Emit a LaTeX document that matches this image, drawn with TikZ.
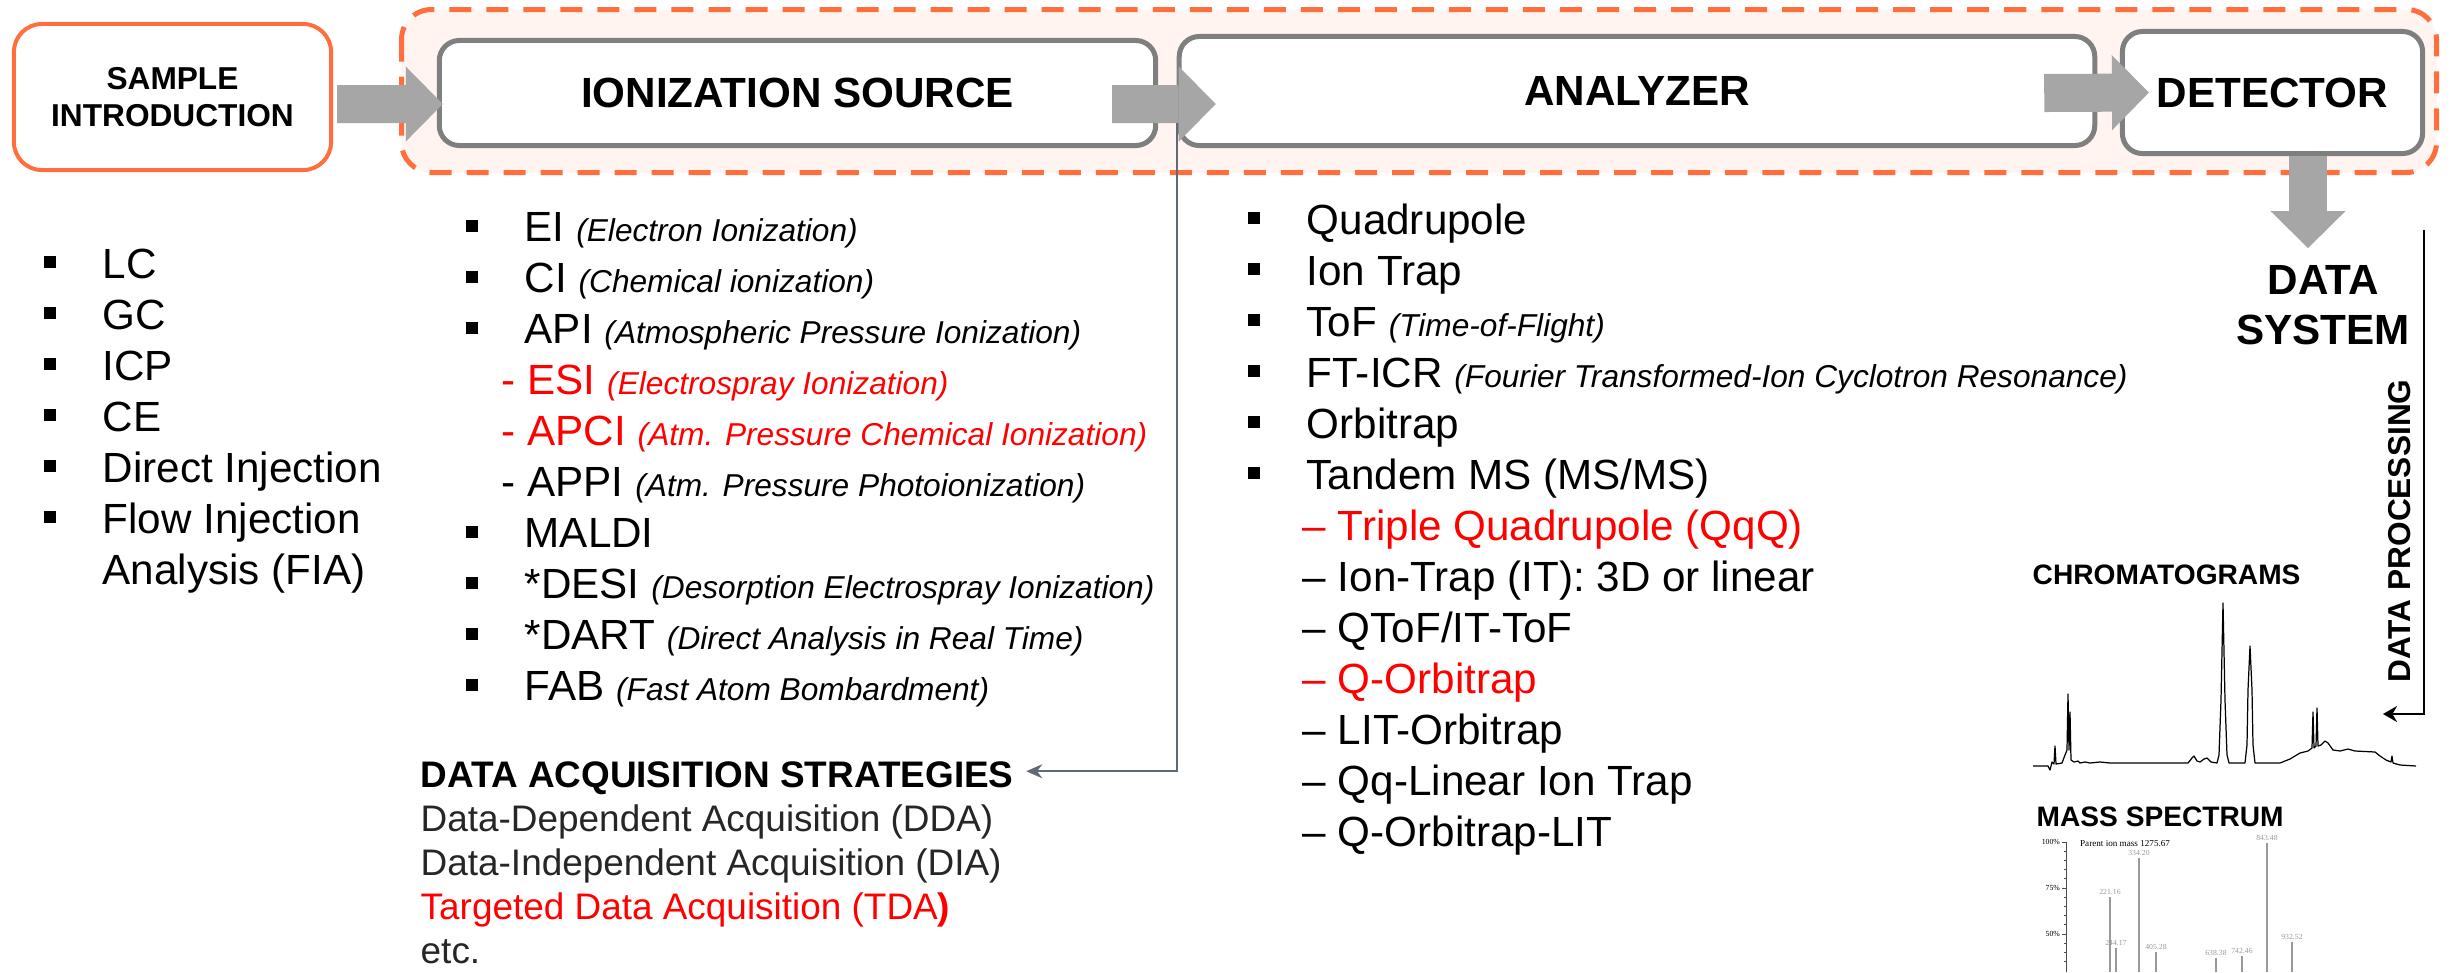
\documentclass[tikz,border=0pt]{standalone}
\usepackage{fontspec}
\setmainfont{Liberation Sans}
\newfontfamily\specfont{Liberation Serif}
\usetikzlibrary{arrows.meta}

\definecolor{mainorange}{RGB}{255,110,60}
\definecolor{groupfill}{RGB}{255,244,240}
\definecolor{boxgray}{RGB}{127,127,127}
\definecolor{arrowgray}{RGB}{166,166,166}
\definecolor{linkgray}{RGB}{96,106,116}
\definecolor{hilite}{RGB}{255,0,0}

% square bullet and the small italic long names
\newcommand{\blt}{\makebox[0.59cm][l]{\rule[0.24em]{0.12cm}{0.12cm}}}
\newcommand{\longname}[1]{{\fontsize{9}{10}\selectfont\itshape (#1)}}

\begin{document}
\begin{tikzpicture}[x=0.01cm, y=-0.01cm,
  stage/.style={draw=boxgray, line width=0.05cm, fill=white, rounded corners=0.2cm,
    font=\fontsize{12}{14}\selectfont\bfseries},
  flow/.style={draw=arrowgray, line width=0.38cm,
    -{Triangle[length=0.37cm, width=0.75cm, line width=0pt]}},
  link/.style={draw=linkgray, line width=0.02cm, -{Stealth[length=0.16cm, width=0.14cm]}},
  procline/.style={draw=black, line width=0.02cm, -{Stealth[length=0.14cm, width=0.16cm]}},
  itemlist/.style={anchor=north west, inner sep=0pt, align=left,
    font=\fontsize{12}{14.5}\selectfont},
  smalltitle/.style={anchor=west, inner sep=0pt, font=\fontsize{8}{9}\selectfont\bfseries},
  tiny/.style={inner sep=0.4pt, font=\fontsize{2.2}{2.5}\selectfont\specfont}]

\fill[white] (0,0) rectangle (2450,970);

% dashed group round the instrument
\draw[mainorange, line width=0.05cm, dash pattern=on 0.22cm off 0.15cm, fill=groupfill,
  rounded corners=0.3cm] (401.5,9.5) rectangle (2436.5,172.5);

% the stages
\node[stage, draw=mainorange, line width=0.04cm, rounded corners=0.28cm, align=center,
  minimum width=3.17cm, minimum height=1.46cm, font=\fontsize{9}{10.5}\selectfont\bfseries]
  (sample) at (172.5,97) {SAMPLE\\INTRODUCTION};
\node[stage, minimum width=7.16cm, minimum height=1.05cm] (ion) at (797.5,93) {IONIZATION SOURCE};
\node[stage, minimum width=9.15cm, minimum height=1.09cm] (analyzer) at (1637,91) {ANALYZER};
\node[stage, minimum width=3cm, minimum height=1.22cm] (detector) at (2272.5,92.5) {DETECTOR};

% block arrows between the stages
\draw[flow] ([xshift=0.04cm, yshift=-0.07cm]sample.east) -- ([xshift=0.06cm, yshift=-0.11cm]ion.west);
\draw[flow] ([xshift=-0.46cm, yshift=-0.11cm]ion.east) -- ([xshift=0.39cm, yshift=-0.13cm]analyzer.west);
\draw[flow] ([xshift=-0.53cm, yshift=-0.02cm]analyzer.east) -- ([xshift=0.29cm]detector.west);
\draw[flow] ([xshift=0.355cm]detector.south) -- ++(0,92);

% lists under the stages
\node[itemlist] (intro list) at (43,248) {%
  \blt LC\\
  \blt GC\\
  \blt ICP\\
  \blt CE\\
  \blt Direct Injection\\
  \blt Flow Injection\\
  \hspace*{0.59cm}Analysis (FIA)};

\node[itemlist] (ion list) at (465,212) {%
  \blt EI \longname{Electron Ionization}\\
  \blt CI \longname{Chemical ionization}\\
  \blt API \longname{Atmospheric Pressure Ionization}\\
  \hspace*{0.36cm}\textcolor{hilite}{- ESI \longname{Electrospray Ionization}}\\
  \hspace*{0.36cm}\textcolor{hilite}{- APCI \longname{Atm. Pressure Chemical Ionization}}\\
  \hspace*{0.36cm}- APPI \longname{Atm. Pressure Photoionization}\\
  \blt MALDI\\
  \blt *DESI \longname{Desorption Electrospray Ionization}\\
  \blt *DART \longname{Direct Analysis in Real Time}\\
  \blt FAB \longname{Fast Atom Bombardment}};

\node[itemlist] (analyzer list) at (1247,203) {%
  \blt Quadrupole\\
  \blt Ion Trap\\
  \blt ToF \longname{Time-of-Flight}\\
  \blt FT-ICR \longname{Fourier Transformed-Ion Cyclotron Resonance}\\
  \blt Orbitrap\\
  \blt Tandem MS (MS/MS)\\
  \hspace*{0.55cm}\textcolor{hilite}{-- Triple Quadrupole (QqQ)}\\
  \hspace*{0.55cm}-- Ion-Trap (IT): 3D or linear\\
  \hspace*{0.55cm}-- QToF/IT-ToF\\
  \hspace*{0.55cm}\textcolor{hilite}{-- Q-Orbitrap}\\
  \hspace*{0.55cm}-- LIT-Orbitrap\\
  \hspace*{0.55cm}-- Qq-Linear Ion Trap\\
  \hspace*{0.55cm}-- Q-Orbitrap-LIT};

% acquisition strategies
\node[anchor=north west, inner sep=0pt, font=\fontsize{10.5}{12.5}\selectfont\bfseries]
  (daqhead) at (420,761) {DATA ACQUISITION STRATEGIES};
\node[anchor=north west, inner sep=0pt, align=left, text=black!85,
  font=\fontsize{10.5}{12.5}\selectfont] (daqlist) at (420,804) {%
  Data-Dependent Acquisition (DDA)\\
  Data-Independent Acquisition (DIA)\\
  \textcolor{hilite}{Targeted Data Acquisition (TDA\textbf{)}}\\
  etc.};
\draw[link] ([yshift=-0.32cm]analyzer.west) |- ([xshift=0.12cm, yshift=0.07cm]daqhead.east);

% data system and processing
\node[anchor=north, inner sep=0pt, align=center, font=\fontsize{12}{14.2}\selectfont\bfseries]
  (datasys) at (2323,265) {DATA\\SYSTEM};
\node[rotate=90, inner sep=0pt, font=\fontsize{9}{10}\selectfont\bfseries] (dataproc) at (2400,531) {DATA PROCESSING};
\coordinate (proc top) at (2424,230);
\draw[procline] (proc top) |- (2383,714);

% chromatogram trace
\node[smalltitle] (chromlabel) at (2032,575) {CHROMATOGRAMS};
\draw[line width=0.35pt, line join=round] (2033,766) -- (2048,766) -- (2050,770) -- (2052,762) -- (2054,764)
  -- (2055,746) -- (2056,764) -- (2062,763) -- (2065,755) -- (2067,750) -- (2068,694) -- (2069,750)
  -- (2070,712) -- (2071,760) -- (2074,762) -- (2078,761) -- (2080,763) -- (2085,762) -- (2090,763)
  -- (2100,762) -- (2110,763) -- (2188,763) -- (2192,758) -- (2194,756) -- (2197,761) -- (2200,762)
  -- (2204,759) -- (2207,758) -- (2211,762) -- (2217,763) -- (2219,755) -- (2221,700) -- (2223,603)
  -- (2225,700) -- (2227,755) -- (2229,763) -- (2245,763) -- (2247,745) -- (2248,690) -- (2250,646)
  -- (2252,690) -- (2253,745) -- (2255,763) -- (2280,763) -- (2290,759) -- (2300,753) -- (2308,751)
  -- (2312,748) -- (2313,712) -- (2314,748) -- (2316,746) -- (2317,708) -- (2318,746) -- (2321,745)
  -- (2325,741) -- (2328,743) -- (2333,750) -- (2340,751) -- (2348,749) -- (2355,751) -- (2375,752)
  -- (2380,756) -- (2386,760) -- (2391,762) -- (2392,756) -- (2393,763) -- (2400,765) -- (2416,766);

% mass spectrum
\node[smalltitle] (msplabel) at (2036,817) {MASS SPECTRUM};
\draw[black!70, line width=0.25pt] (2066,842) -- (2066,972);
\foreach \y in {851.2,860.4,...,970} \draw[black!70, line width=0.2pt] (2064,\y) -- (2066,\y);
\foreach \y/\p in {842/100\%, 888/75\%, 934/50\%} {
  \draw[black!70, line width=0.2pt] (2062,\y) -- (2066,\y);
  \node[tiny, anchor=east] at (2062,\y) {\p};
}
\node[tiny, anchor=west, font=\fontsize{2.6}{3}\selectfont\specfont] at (2078,844) {Parent ion mass 1275.67};
\foreach \x/\top/\mz in {2110/897/221.16, 2116/948/244.17, 2139/858/334.20, 2156/952/405.28,
    2216/958/638.38, 2242/956/742.46, 2267/843/843.48, 2292/942/932.52}
  \draw[black!40, line width=0.3pt] (\x,972) -- (\x,\top) node[tiny, above] {\mz};

\end{tikzpicture}
\end{document}
